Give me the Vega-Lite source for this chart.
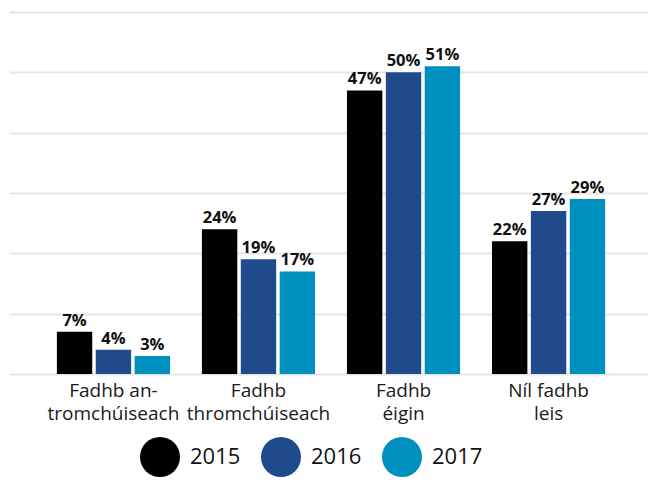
{
  "$schema": "https://vega.github.io/schema/vega-lite/v6.json",
  "autosize": "none",
  "width": 644,
  "height": 362,
  "padding": {"left": 9, "top": 12, "right": 0, "bottom": 119},
  "background": "white",
  "config": {
    "view": {"stroke": null},
    "font": "Open Sans"
  },
  "data": {
    "values": [
      {"cat": "Fadhb an-|tromchúiseach", "year": "2015", "value": 0.07},
      {"cat": "Fadhb an-|tromchúiseach", "year": "2016", "value": 0.04},
      {"cat": "Fadhb an-|tromchúiseach", "year": "2017", "value": 0.03},
      {"cat": "Fadhb|thromchúiseach", "year": "2015", "value": 0.24},
      {"cat": "Fadhb|thromchúiseach", "year": "2016", "value": 0.19},
      {"cat": "Fadhb|thromchúiseach", "year": "2017", "value": 0.17},
      {"cat": "Fadhb|éigin", "year": "2015", "value": 0.47},
      {"cat": "Fadhb|éigin", "year": "2016", "value": 0.50},
      {"cat": "Fadhb|éigin", "year": "2017", "value": 0.51},
      {"cat": "Níl fadhb|leis", "year": "2015", "value": 0.22},
      {"cat": "Níl fadhb|leis", "year": "2016", "value": 0.27},
      {"cat": "Níl fadhb|leis", "year": "2017", "value": 0.29}
    ]
  },
  "encoding": {
    "x": {
      "field": "cat",
      "type": "nominal",
      "sort": null,
      "scale": {"paddingInner": 0.22, "paddingOuter": 0.33},
      "axis": {
        "title": null,
        "domain": false,
        "ticks": false,
        "labelAngle": 0,
        "labelExpr": "split(datum.label, '|')",
        "labelFontSize": 19,
        "labelColor": "#1a1a1a",
        "labelLineHeight": 23,
        "labelPadding": 7,
        "labelBaseline": "top"
      }
    },
    "xOffset": {
      "field": "year",
      "type": "nominal",
      "scale": {"paddingInner": 0.09}
    },
    "y": {
      "field": "value",
      "type": "quantitative",
      "scale": {"domain": [0, 0.6]},
      "axis": {
        "title": null,
        "domain": false,
        "ticks": false,
        "labels": false,
        "values": [0, 0.1, 0.2, 0.3, 0.4, 0.5, 0.6],
        "grid": true,
        "gridColor": "#e6e6e6",
        "gridWidth": 2
      }
    }
  },
  "layer": [
    {
      "mark": {"type": "bar"},
      "encoding": {
        "color": {
          "field": "year",
          "type": "nominal",
          "scale": {"domain": ["2015", "2016", "2017"], "range": ["#000000", "#1f4a8c", "#0090bf"]},
          "legend": {
            "title": null,
            "orient": "none",
            "direction": "horizontal",
            "legendX": 131,
            "legendY": 425,
            "symbolType": "circle",
            "symbolSize": 1600,
            "symbolStrokeWidth": 0,
            "labelFontSize": 22,
            "labelColor": "#111111",
            "labelOffset": 10,
            "columnPadding": 20
          }
        }
      }
    },
    {
      "mark": {"type": "text", "baseline": "bottom", "dy": -3, "fontSize": 16.5, "fontWeight": "bold", "color": "#111111"},
      "encoding": {
        "text": {"field": "value", "type": "quantitative", "format": ".0%"},
        "detail": {"field": "year"}
      }
    }
  ]
}
